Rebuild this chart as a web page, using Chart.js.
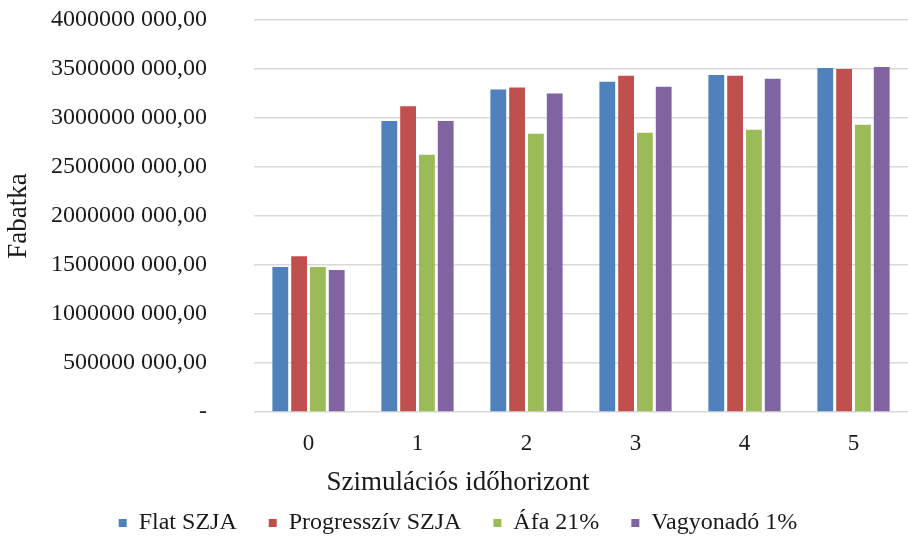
<!DOCTYPE html>
<html>
<head>
<meta charset="utf-8">
<script src="https://cdn.jsdelivr.net/npm/chart.js@4/dist/chart.umd.min.js"></script>
<style>
    html, body { margin: 0; padding: 0; background: #fff; }
    #wrap { width: 908px; height: 539px; }
</style>
</head>
<body>
<div id="wrap"><canvas id="chart1" width="908" height="539"></canvas></div>
<script>
// values (full amounts)
const categories = ["0", "1", "2", "3", "4", "5"];
const flatSzja = [1480000000, 2970000000, 3290000000, 3370000000, 3440000000, 3510000000];
const progresszivSzja = [1590000000, 3120000000, 3310000000, 3430000000, 3430000000, 3500000000];
const afa21 = [1480000000, 2625000000, 2840000000, 2850000000, 2880000000, 2930000000];
const vagyonado1 = [1450000000, 2970000000, 3250000000, 3320000000, 3400000000, 3520000000];

const serif = "'Liberation Serif', 'Times New Roman', serif";
const textColor = "#1a1a1a";

// Excel style "4000000 000,00", zero shown as "-"
function formatTick(v) {
    if (v === 0) return "-";
    let head = Math.floor(v / 1000);
    let tail = String(v % 1000).padStart(3, "0");
    return head + " " + tail + ",00";
}

function makeSet(label, data, color) {
    return {
        label: label,
        data: data,
        backgroundColor: color,
        borderWidth: 0,
        categoryPercentage: 0.69,
        barPercentage: 0.84
    };
}

new Chart(document.getElementById("chart1"), {
    type: "bar",
    data: {
        labels: categories,
        datasets: [
            makeSet("Flat SZJA", flatSzja, "#4f81bd"),
            makeSet("Progresszív SZJA", progresszivSzja, "#c0504d"),
            makeSet("Áfa 21%", afa21, "#9bbb59"),
            makeSet("Vagyonadó 1%", vagyonado1, "#8064a2")
        ]
    },
    options: {
        responsive: false,
        animation: false,
        layout: { padding: { top: 20, right: -8, left: 0, bottom: -6 } },
        plugins: {
            tooltip: { enabled: false },
            // x axis title is centred on the whole picture, so use the chart title box
            title: {
                display: true,
                position: "bottom",
                weight: 500,
                text: "Szimulációs időhorizont",
                font: { family: serif, size: 27, weight: "normal", lineHeight: 1 },
                color: textColor,
                padding: { top: 17.5, bottom: -17.5 }
            },
            legend: {
                position: "bottom",
                labels: {
                    font: { family: serif, size: 24 },
                    color: textColor,
                    boxWidth: 8,
                    boxHeight: 8,
                    padding: 32
                }
            }
        },
        scales: {
            x: {
                grid: { display: false, drawTicks: false },
                border: { display: false },
                ticks: { font: { family: serif, size: 23 }, color: textColor, padding: 18 },
                afterFit: function (scale) { scale.height = 40; }
            },
            y: {
                min: 0,
                max: 4000000000,
                grid: { color: "#d9d9d9", lineWidth: 1.5, drawTicks: false },
                border: { display: false },
                ticks: {
                    stepSize: 500000000,
                    font: { family: serif, size: 24 },
                    color: textColor,
                    padding: 47,
                    callback: function (v) { return formatTick(v); }
                },
                title: {
                    display: true,
                    text: "Fabatka",
                    font: { family: serif, size: 27 },
                    color: textColor,
                    padding: { top: 3, bottom: 0 }
                },
                afterFit: function (scale) {
                    scale.width = 254;
                    // tick padding would otherwise push the plot top down
                    scale.paddingTop = 0;
                    scale.paddingBottom = 0;
                }
            }
        }
    }
});
</script>
</body>
</html>
